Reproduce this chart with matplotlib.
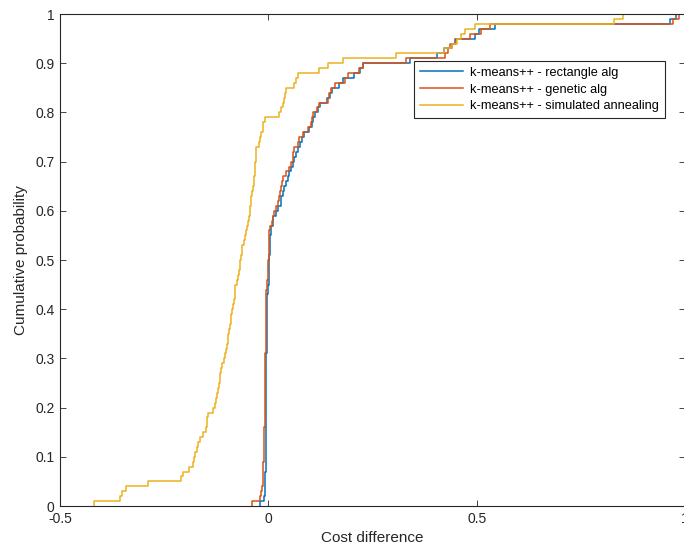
#! /usr/bin/python3

import matplotlib
matplotlib.use("Agg")
import matplotlib.pyplot as plt
import numpy as np


# sorted cost differences (100 runs each)
rect_alg = [-0.020, -0.010, -0.008, -0.008, -0.007, -0.007, -0.007, -0.006, -0.006, -0.006,
	-0.006, -0.006, -0.005, -0.005, -0.005, -0.005, -0.005, -0.005, -0.005, -0.005,
	-0.005, -0.005, -0.005, -0.005, -0.005, -0.005, -0.005, -0.005, -0.005, -0.005,
	-0.005, -0.004, -0.004, -0.004, -0.004, -0.004, -0.004, -0.004, -0.004, -0.004,
	-0.004, -0.004, -0.004, 0.000, 0.000, 0.001, 0.001, 0.001, 0.001, 0.002,
	0.002, 0.005, 0.005, 0.005, 0.005, 0.006, 0.006, 0.012, 0.012, 0.018,
	0.022, 0.030, 0.030, 0.035, 0.038, 0.042, 0.046, 0.050, 0.055, 0.060,
	0.062, 0.066, 0.072, 0.076, 0.080, 0.086, 0.098, 0.104, 0.108, 0.112,
	0.120, 0.124, 0.140, 0.148, 0.152, 0.170, 0.180, 0.206, 0.220, 0.228,
	0.341, 0.404, 0.421, 0.441, 0.449, 0.497, 0.505, 0.545, 0.963, 0.978]

genetic_alg = [-0.039, -0.019, -0.017, -0.015, -0.013, -0.013, -0.012, -0.012, -0.012, -0.011,
	-0.011, -0.011, -0.010, -0.010, -0.010, -0.010, -0.009, -0.009, -0.009, -0.009,
	-0.008, -0.008, -0.008, -0.008, -0.008, -0.007, -0.007, -0.007, -0.007, -0.007,
	-0.007, -0.006, -0.006, -0.006, -0.006, -0.006, -0.006, -0.005, -0.005, -0.005,
	-0.005, -0.005, -0.005, -0.005, -0.004, -0.003, -0.002, -0.001, 0.000, 0.000,
	0.001, 0.001, 0.001, 0.002, 0.002, 0.002, 0.003, 0.008, 0.010, 0.014,
	0.018, 0.022, 0.026, 0.028, 0.030, 0.032, 0.034, 0.042, 0.050, 0.054,
	0.058, 0.060, 0.062, 0.070, 0.074, 0.082, 0.096, 0.102, 0.104, 0.106,
	0.116, 0.122, 0.142, 0.146, 0.150, 0.160, 0.184, 0.190, 0.218, 0.226,
	0.330, 0.425, 0.430, 0.437, 0.450, 0.485, 0.510, 0.533, 0.970, 0.985]

sim_annealing = [-0.418, -0.356, -0.352, -0.342, -0.290, -0.210, -0.205, -0.191, -0.181, -0.179,
	-0.177, -0.171, -0.168, -0.165, -0.157, -0.149, -0.148, -0.147, -0.144, -0.132,
	-0.128, -0.125, -0.123, -0.120, -0.118, -0.117, -0.116, -0.113, -0.111, -0.107,
	-0.104, -0.102, -0.100, -0.098, -0.097, -0.094, -0.092, -0.090, -0.089, -0.088,
	-0.085, -0.083, -0.081, -0.080, -0.079, -0.075, -0.073, -0.071, -0.069, -0.067,
	-0.065, -0.063, -0.062, -0.058, -0.055, -0.053, -0.051, -0.049, -0.047, -0.045,
	-0.043, -0.042, -0.041, -0.039, -0.037, -0.035, -0.034, -0.033, -0.032, -0.031,
	-0.030, -0.029, -0.029, -0.023, -0.020, -0.017, -0.014, -0.012, -0.007, 0.026,
	0.030, 0.034, 0.038, 0.041, 0.043, 0.062, 0.066, 0.072, 0.122, 0.142,
	0.178, 0.306, 0.421, 0.441, 0.453, 0.463, 0.473, 0.497, 0.830, 0.850]

labels = ['k-means++ - rectangle alg', 'k-means++ - genetic alg', 'k-means++ - simulated annealing']
colors = ['#0072BD', '#D95319', '#EDB120']

x_ticks = [-0.5, 0, 0.5, 1]
y_ticks = [0, 0.1, 0.2, 0.3, 0.4, 0.5, 0.6, 0.7, 0.8, 0.9, 1]


def ecdf_plot(ax, values, color, label):
	x = np.sort(np.asarray(values))
	n = len(x)
	xs = np.concatenate(([x[0]], x))
	ys = np.concatenate(([0.0], np.arange(1, n + 1) / n))
	ax.step(xs, ys, where='post', color=color, lw=1.1, label=label)


def fmt(v):
	return '%g' % v


plt.rcParams['font.family'] = ['Liberation Sans', 'DejaVu Sans']
axis_col = '#262626'

fig = plt.figure(figsize=(6.84, 5.54), dpi=100)
ax = fig.add_axes([60 / 684, 48 / 554, 625 / 684, 492 / 554])

for vals, c, lab in zip([rect_alg, genetic_alg, sim_annealing], colors, labels):
	ecdf_plot(ax, vals, c, lab)

ax.set_xlim(-0.5, 1)
ax.set_ylim(0, 1)
ax.set_xticks(x_ticks)
ax.set_xticklabels([fmt(v) for v in x_ticks])
ax.set_yticks(y_ticks)
ax.set_yticklabels([fmt(v) for v in y_ticks])
ax.tick_params(direction='in', top=True, right=True, length=4, width=0.6,
	labelsize=10, colors=axis_col, pad=4)
for sp in ax.spines.values():
	sp.set_color(axis_col)
	sp.set_linewidth(0.8)

ax.set_xlabel('Cost difference', fontsize=11, color=axis_col, labelpad=4)
ax.set_ylabel('Cumulative probability', fontsize=11, color=axis_col, labelpad=5)

leg = ax.legend(loc='upper right', bbox_to_anchor=((665 - 60) / 625, (506 - 61) / 492),
	borderaxespad=0, fontsize=9.2, fancybox=False, framealpha=1, edgecolor=axis_col,
	handlelength=3.4, handletextpad=0.55, labelspacing=0.38, borderpad=0.45)
leg.get_frame().set_linewidth(0.8)

fig.savefig('out.png', dpi=100)
